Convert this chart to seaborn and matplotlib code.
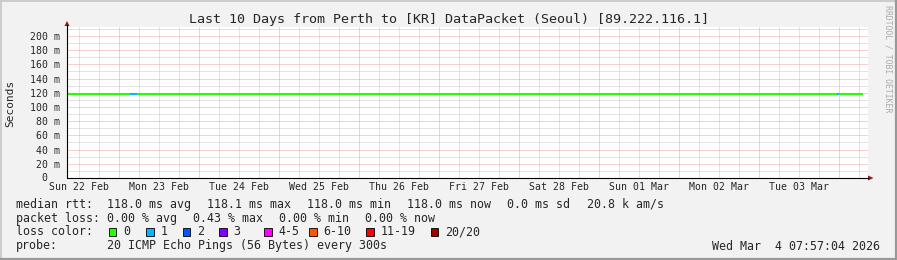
import numpy as np
import pandas as pd
import matplotlib
matplotlib.use("Agg")
import matplotlib.pyplot as plt
from matplotlib.patches import Rectangle, Polygon
from matplotlib.lines import Line2D
import seaborn as sns

# ---------------- data ----------------
title = "Last 10 Days from Perth to [KR] DataPacket (Seoul) [89.222.116.1]"
# segments of the median RTT line (hours since Sun 22 Feb 00:00)
seg_start = [8.35, 27.25, 29.45, 239.45, 240.05]
seg_end = [27.25, 29.45, 239.45, 240.05, 247.15]
seg_rtt_ms = [118.0, 118.0, 118.0, 118.0, 118.0]
seg_loss = ["0", "1", "0", "1", "0"]

day_labels = ["Sun 22 Feb", "Mon 23 Feb", "Tue 24 Feb", "Wed 25 Feb", "Thu 26 Feb",
              "Fri 27 Feb", "Sat 28 Feb", "Sun 01 Mar", "Mon 02 Mar", "Tue 03 Mar"]
day_label_hours = [12, 36, 60, 84, 108, 132, 156, 180, 204, 228]
y_ticks = [20, 40, 60, 80, 100, 120, 140, 160, 180, 200]
y_labels = ["20 m", "40 m", "60 m", "80 m", "100 m", "120 m", "140 m",
            "160 m", "180 m", "200 m"]
y_zero_label = "0"

loss_names = ["0", "1", "2", "3", "4-5", "6-10", "11-19", "20/20"]
loss_colors = ["#26ff00", "#00b8ff", "#0059ff", "#7e00ff", "#ff00ff", "#ff5500", "#ff0000", "#a10000"]

median_items = ["median rtt:", "118.0 ms avg", "118.1 ms max", "118.0 ms min",
                "118.0 ms now", "0.0 ms sd", "20.8 k am/s"]
loss_items = ["packet loss:", "0.00 % avg", "0.43 % max", "0.00 % min", "0.00 % now"]
probe_text = "20 ICMP Echo Pings (56 Bytes) every 300s"
timestamp = "Wed Mar  4 07:57:04 2026"

# ---------------- style ----------------
sns.set_theme(style="white")
plt.rcParams["font.family"] = ["DejaVu Sans Mono"]
W, H = 897, 260
fig = plt.figure(figsize=(W / 100, H / 100), dpi=100)
BACK = "#f2f2f2"
fig.patch.set_facecolor(BACK)

def fx(px):
    return px / W

def fy(py):
    return 1 - py / H

ax_l, ax_r, ax_t, ax_b = 67, 868, 27.4, 178
ax = fig.add_axes([fx(ax_l), fy(ax_b), fx(ax_r) - fx(ax_l), fy(ax_t) - fy(ax_b)])
ax.set_facecolor("white")

# data
rows = []
for i, (s, e, r, l) in enumerate(zip(seg_start, seg_end, seg_rtt_ms, seg_loss)):
    rows.append({"hour": s, "rtt": r, "loss": l, "seg": i})
    rows.append({"hour": e, "rtt": r, "loss": l, "seg": i})
df = pd.DataFrame(rows)
palette = dict(zip(loss_names, loss_colors))
used = [n for n in loss_names if n in set(seg_loss)]

xmin, xmax = 8.35, 248.65
ymin, ymax = 0, 212
ax.set_xlim(xmin, xmax)
ax.set_ylim(ymin, ymax)

# grid
grid_kw = dict(linewidth=0.72, linestyle=(0, (1, 1)), zorder=1)
for h in np.arange(6, 250, 6):
    if xmin < h < xmax and h % 24 != 0:
        ax.axvline(h, color="#c8c8c8", **grid_kw)
for v in np.arange(10, 212, 20):
    ax.axhline(v, color="#c8c8c8", **grid_kw)
for h in np.arange(24, 250, 24):
    if xmin < h < xmax:
        ax.axvline(h, color="#f0a0a0", **grid_kw)
for v in np.arange(20, 212, 20):
    ax.axhline(v, color="#f0a0a0", **grid_kw)

sns.lineplot(data=df, x="hour", y="rtt", hue="loss", units="seg", estimator=None,
             palette={k: palette[k] for k in used}, hue_order=used, legend=False,
             linewidth=1.5, solid_capstyle="butt", ax=ax, zorder=3)

ax.set_xlabel("")
ax.set_ylabel("")
ax.set_xticks(day_label_hours)
ax.set_xticklabels(day_labels, fontsize=7.1)
ax.set_yticks(y_ticks)
ax.set_yticklabels(y_labels, fontsize=7.1)
ax.tick_params(axis="both", length=0)
ax.tick_params(axis="x", pad=3)
ax.tick_params(axis="y", pad=5)
for sp in ax.spines.values():
    sp.set_visible(False)
# zero label of the y axis (positioned like rrdtool's "   0  ")
fig.text(fx(44), fy(178), y_zero_label, ha="center", va="center", fontsize=7.1)

# axis lines & arrows
fig.add_artist(Line2D([fx(67), fx(67)], [fy(178), fy(25)], color="black", lw=0.8))
fig.add_artist(Line2D([fx(67), fx(868)], [fy(178), fy(178)], color="black", lw=0.8))
fig.add_artist(Polygon([[fx(64.5), fy(26)], [fx(69.5), fy(26)], [fx(67), fy(21)]],
                       closed=True, color="#901818", lw=0))
fig.add_artist(Polygon([[fx(868), fy(175.5)], [fx(868), fy(180.5)], [fx(873.5), fy(178)]],
                       closed=True, color="#901818", lw=0))

# title and labels
fig.text(0.5, fy(19), title, ha="center", va="center", fontsize=9.6)
fig.text(fx(10), fy(103), "Seconds", ha="center", va="center", rotation=90, fontsize=8.0)
fig.text(fx(888), fy(59), "RRDTOOL / TOBI OETIKER", ha="center", va="center",
         rotation=270, fontsize=5.9, color="#aaaaaa")

# legend rows
fs = 8.4
median_x = [16, 107.3, 207, 307.3, 406.7, 507.3, 586.7]
for t, x in zip(median_items, median_x):
    fig.text(fx(x), fy(204.3), t, ha="left", va="center", fontsize=fs)
loss_x = [16, 107, 193, 279.3, 365.3]
for t, x in zip(loss_items, loss_x):
    fig.text(fx(x), fy(218.3), t, ha="left", va="center", fontsize=fs)
fig.text(fx(16), fy(231.7), "loss color:", ha="left", va="center", fontsize=fs)
box_x = [108.7, 146, 182.7, 219, 264, 309, 366, 430.7]
for name, col, bx in zip(loss_names, loss_colors, box_x):
    fig.add_artist(Rectangle((fx(bx), fy(235.5)), fx(7.5), 7.5 / H, facecolor=col,
                             edgecolor="black", lw=0.6))
    fig.text(fx(bx + 14.5), fy(231.7), name, ha="left", va="center", fontsize=fs)
fig.text(fx(16), fy(246), "probe:", ha="left", va="center", fontsize=fs)
fig.text(fx(107), fy(246), probe_text, ha="left", va="center", fontsize=fs)
fig.text(fx(880), fy(246), timestamp, ha="right", va="center", fontsize=fs)

# frame shading
fig.add_artist(Line2D([0, 1], [fy(0.5), fy(0.5)], color="#cbcbcb", lw=1.4))
fig.add_artist(Line2D([fx(0.5), fx(0.5)], [0, 1], color="#cbcbcb", lw=1.4))
fig.add_artist(Line2D([0, 1], [fy(259), fy(259)], color="#999999", lw=1.6))
fig.add_artist(Line2D([fx(896), fx(896)], [0, 1], color="#999999", lw=1.6))

fig.savefig("out.png", dpi=100, facecolor=fig.get_facecolor())
